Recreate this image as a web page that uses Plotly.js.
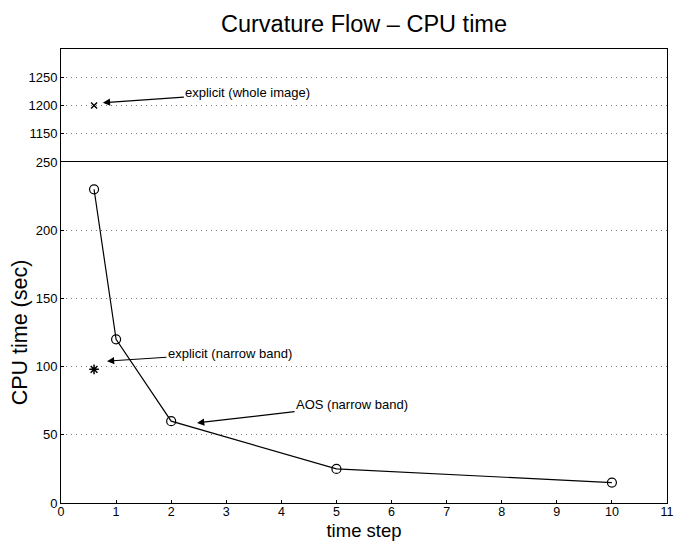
<!DOCTYPE html>
<html>
<head>
<meta charset="utf-8">
<script src="https://cdn.plot.ly/plotly-3.0.1.min.js"></script>
<style>html,body{margin:0;padding:0;background:#fff}#chart{width:679px;height:542px}</style>
</head>
<body>
<div id="chart"></div>
<script>
// Data
const aosSteps = [0.6, 1, 2, 5, 10];
const aosTimes = [230, 120, 60, 25, 15];
const explicitNarrowSteps = [0.6];
const explicitNarrowTimes = [98];
const explicitWholeSteps = [0.6];
const explicitWholeTimes = [1200];
const xTickVals = [0,1,2,3,4,5,6,7,8,9,10,11];
const lowerTickVals = [0,50,100,150,200,250];
const upperTickVals = [1150,1200,1250];

const FONT = 'Liberation Sans, Arial, Helvetica, sans-serif';

const traces = [
  {x: aosSteps, y: aosTimes, type: 'scatter', mode: 'lines+markers', xaxis: 'x', yaxis: 'y',
   line: {color: '#000', width: 1.2},
   marker: {symbol: 'circle-open', size: 9, color: '#000', line: {width: 1.2}}},
  {x: explicitNarrowSteps, y: explicitNarrowTimes, type: 'scatter', mode: 'markers', xaxis: 'x', yaxis: 'y',
   marker: {symbol: 'asterisk-open', size: 8, color: '#000', line: {width: 1.5, color: '#000'}}},
  {x: explicitWholeSteps, y: explicitWholeTimes, type: 'scatter', mode: 'markers', xaxis: 'x2', yaxis: 'y2',
   marker: {symbol: 'x-thin-open', size: 6, color: '#000', line: {width: 1.5, color: '#000'}}}
];

const split = 341/454;
const gridDash = '1px,4px';

const layout = {
  width: 679, height: 542,
  margin: {l: 61, r: 12, t: 49, b: 39},
  paper_bgcolor: '#fff', plot_bgcolor: '#fff',
  showlegend: false,
  font: {family: FONT, color: '#000', size: 13},
  title: {text: 'Curvature Flow – CPU time', font: {size: 23.5, family: FONT},
    xref: 'paper', x: 0.5, xanchor: 'center', yref: 'container', y: 1 - 24/542, yanchor: 'middle'},
  xaxis: {range: [0, 11], tickvals: xTickVals, ticks: 'inside', ticklen: 3, tickcolor: '#000',
    ticklabelstandoff: -3, tickfont: {size: 12.5},
    showgrid: false, zeroline: false, showline: true, linecolor: '#000', linewidth: 1, mirror: true,
    anchor: 'y', domain: [0, 1],
    title: {text: 'time step', font: {size: 18.5}, standoff: 6}},
  yaxis: {range: [0, 250], tickvals: lowerTickVals, domain: [0, split], anchor: 'x',
    ticks: 'inside', ticklen: 3, tickcolor: '#000',
    showgrid: true, gridcolor: '#777', griddash: gridDash, gridwidth: 1,
    zeroline: false, showline: true, linecolor: '#000', linewidth: 1, mirror: true,
    title: {text: 'CPU time (sec)', font: {size: 21.5}, standoff: 2}},
  xaxis2: {range: [0, 11], matches: 'x', anchor: 'y2', side: 'top', showticklabels: false, ticks: '',
    showgrid: false, zeroline: false, showline: true, linecolor: '#000', linewidth: 1, mirror: false},
  yaxis2: {range: [1100, 1300], tickvals: upperTickVals, domain: [split, 1], anchor: 'x2',
    ticks: 'inside', ticklen: 3, tickcolor: '#000',
    showgrid: true, gridcolor: '#777', griddash: gridDash, gridwidth: 1,
    zeroline: false, showline: true, linecolor: '#000', linewidth: 1, mirror: true},
  annotations: [
    {xref: 'x2', yref: 'y2', x: 0.76, y: 1205, text: 'explicit (whole image)', showarrow: true,
     ax: 145, ay: -10, arrowhead: 2, arrowsize: 1.2, arrowwidth: 1.2, arrowcolor: '#000', font: {size: 13}},
    {xref: 'x', yref: 'y', x: 0.835, y: 104, text: 'explicit (narrow band)', showarrow: true,
     ax: 123, ay: -8, arrowhead: 2, arrowsize: 1.2, arrowwidth: 1.2, arrowcolor: '#000', font: {size: 13}},
    {xref: 'x', yref: 'y', x: 2.47, y: 58.7, text: 'AOS (narrow band)', showarrow: true,
     ax: 155, ay: -18, arrowhead: 2, arrowsize: 1.2, arrowwidth: 1.2, arrowcolor: '#000', font: {size: 13}}
  ]
};

Plotly.newPlot('chart', traces, layout, {displayModeBar: false, staticPlot: true});
</script>
</body>
</html>
